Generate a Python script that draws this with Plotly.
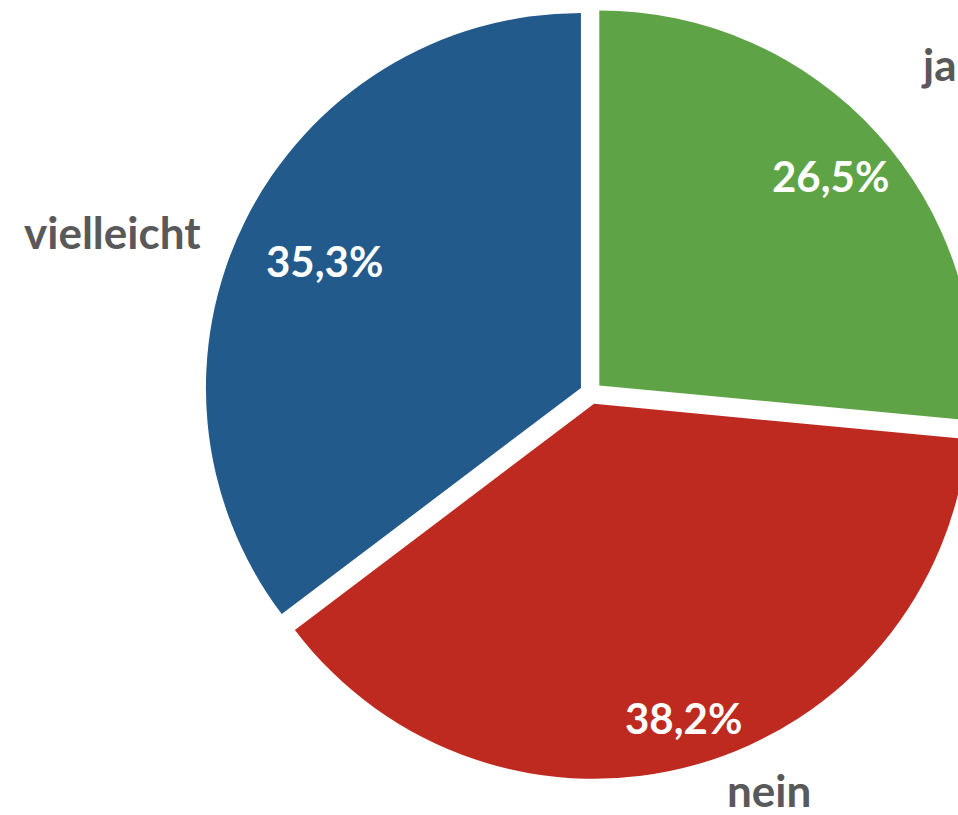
import plotly.graph_objects as go

# ---- data ----
categories = ["ja", "nein", "vielleicht"]
values = [26.5, 38.2, 35.3]
colors = ["#5EA446", "#BE2A1F", "#235A8C"]

# ---- layout helpers (pixels in the 1000x815 figure) ----
FIG_W, FIG_H = 1000, 815
pct_pos = [(830, 176), (683, 718), (324, 261)]
lbl_pos = [(939, 64), (769, 790), (112, 232)]


def px(x, y):
    return x / FIG_W, 1 - y / FIG_H


fig = go.Figure(
    go.Pie(
        labels=categories,
        values=values,
        sort=False,
        direction="clockwise",
        rotation=0,
        pull=[0.03, 0.03, 0.03],
        marker=dict(colors=colors, line=dict(width=0)),
        textinfo="none",
        hoverinfo="label+percent",
        showlegend=False,
        domain=dict(x=[204.75 / FIG_W, 977.25 / FIG_W],
                    y=[(FIG_H - 779.25) / FIG_H, (FIG_H - 6.75) / FIG_H]),
    )
)

total = sum(values)
annotations = []
for cat, v, (x, y) in zip(categories, values, pct_pos):
    ax, ay = px(x, y)
    annotations.append(dict(
        x=ax, y=ay, xref="paper", yref="paper", showarrow=False,
        text=f"{100 * v / total:.1f}%".replace(".", ","),
        font=dict(family="Lato", size=42, color="white", weight="bold"),
        xanchor="center", yanchor="middle",
    ))
for cat, (x, y) in zip(categories, lbl_pos):
    ax, ay = px(x, y)
    annotations.append(dict(
        x=ax, y=ay, xref="paper", yref="paper", showarrow=False,
        text=cat,
        font=dict(family="Lato", size=44, color="#595959", weight="bold"),
        xanchor="center", yanchor="middle",
    ))

fig.update_layout(
    width=FIG_W, height=FIG_H,
    margin=dict(l=0, r=0, t=0, b=0),
    paper_bgcolor="white",
    plot_bgcolor="white",
    annotations=annotations,
)

fig.write_html(
    "out.html",
    config={"displayModeBar": False},
    post_script=(
        "document.body.style.margin='0';"
        "document.body.style.overflow='hidden';"
        "document.documentElement.style.overflow='hidden';"
    ),
)
